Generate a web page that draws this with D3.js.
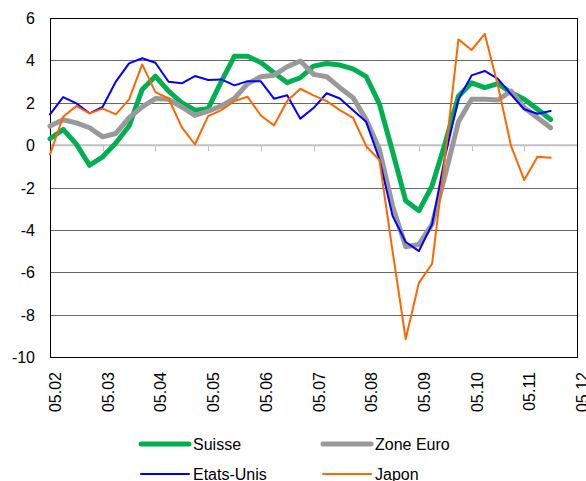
<!DOCTYPE html>
<html>
<head>
<meta charset="utf-8">
<script src="https://cdn.jsdelivr.net/npm/d3@7/dist/d3.min.js"></script>
<style>
  body { margin: 0; background: #fff; }
  svg { display: block; font-family: "Liberation Sans", Arial, sans-serif; }
</style>
</head>
<body>
<svg id="chart" width="586" height="481"></svg>
<script>
// tick labels on the x axis (month.year), one per year
let tickYears = [2002, 2003, 2004, 2005, 2006, 2007, 2008, 2009, 2010, 2011, 2012];
let tickLabels = ["05.02", "05.03", "05.04", "05.05", "05.06", "05.07", "05.08", "05.09", "05.10", "05.11", "05.12"];
let yTicks = [-10, -8, -6, -4, -2, 0, 2, 4, 6];

// quarterly values
let suisse = [0.3, 0.74, 0.05, -0.95, -0.55, 0.1, 0.9, 2.63, 3.25, 2.55,
  2.0, 1.65, 1.72, 3.0, 4.2, 4.2, 3.9, 3.42, 2.95, 3.18,
  3.73, 3.85, 3.78, 3.6, 3.23, 1.95, -0.3, -2.63, -3.1, -1.92,
  0.1, 2.31, 2.94, 2.71, 2.9, 2.47, 2.16, 1.69, 1.21];
let zoneEuro = [0.9, 1.2, 1.05, 0.82, 0.39, 0.55, 1.29, 1.81, 2.2, 2.16,
  1.8, 1.4, 1.6, 1.85, 2.2, 2.9, 3.23, 3.3, 3.7, 3.97,
  3.34, 3.23, 2.71, 2.24, 1.21, -0.2, -2.87, -4.8, -4.69, -3.74,
  -1.4, 1.1, 2.16, 2.16, 2.13, 2.55, 1.76, 1.29, 0.82];
let etatsUnis = [1.45, 2.27, 1.97, 1.5, 1.81, 3.0, 3.86, 4.1, 3.89, 2.99,
  2.92, 3.26, 3.07, 3.1, 2.82, 3.02, 3.01, 2.19, 2.35, 1.25,
  1.75, 2.45, 2.2, 1.65, 1.1, -0.66, -3.34, -4.57, -5.0, -3.74,
  -0.5, 2.16, 3.29, 3.5, 3.13, 2.39, 1.69, 1.48, 1.61];
let japon = [-0.44, 1.34, 1.84, 1.5, 1.72, 1.45, 2.16, 3.81, 2.5, 2.2,
  0.85, 0.03, 1.37, 1.65, 2.08, 2.28, 1.4, 0.93, 2.08, 2.66,
  2.35, 2.08, 1.65, 1.29, -0.05, -0.7, -5.0, -9.15, -6.5, -5.6,
  -0.5, 4.99, 4.49, 5.25, 2.8, -0.05, -1.65, -0.55, -0.6];

// one x position per quarter, starting at the first tick
let quarters = d3.range(suisse.length).map(i => 2002 + i / 4);

let series = [
  {name: "Suisse", values: suisse, color: "#00b050", width: 5},
  {name: "Zone Euro", values: zoneEuro, color: "#999999", width: 5},
  {name: "Etats-Unis", values: etatsUnis, color: "#0000ff", width: 2},
  {name: "Japon", values: japon, color: "#ff6600", width: 2}
];

let svg = d3.select("#chart");

let margin = {top: 18, right: 9, bottom: 124, left: 50};
let width = 586, height = 481;

let x = d3.scaleLinear()
  .domain([2002, 2012])
  .range([margin.left, width - margin.right]);

let y = d3.scaleLinear()
  .domain([-10, 6])
  .range([height - margin.bottom, margin.top]);

let crisp = v => Math.round(v) + 0.5;

// horizontal grid lines (not the zero line)
svg.append("g").selectAll("line")
  .data(yTicks.filter(d => d != 0 && d != 6 && d != -10))
  .join("line")
    .attr("x1", margin.left)
    .attr("x2", width - margin.right)
    .attr("y1", d => crisp(y(d)))
    .attr("y2", d => crisp(y(d)))
    .attr("stroke", "#666")
    .attr("stroke-width", 1);

// zero line with year ticks under it
let zero = svg.append("g");
zero.append("line")
  .attr("x1", margin.left)
  .attr("x2", width - margin.right)
  .attr("y1", y(0))
  .attr("y2", y(0))
  .attr("stroke", "#c0c0c0")
  .attr("stroke-width", 2);
zero.selectAll("line.tick")
  .data(tickYears)
  .join("line")
    .attr("class", "tick")
    .attr("x1", d => crisp(x(d)))
    .attr("x2", d => crisp(x(d)))
    .attr("y1", y(0))
    .attr("y2", y(0) + 6)
    .attr("stroke", "#c0c0c0")
    .attr("stroke-width", 1);

// plot area border
svg.append("rect")
  .attr("x", crisp(margin.left))
  .attr("y", crisp(y(6)))
  .attr("width", Math.round(x(2012)) - Math.round(x(2002)))
  .attr("height", Math.round(y(-10)) - Math.round(y(6)))
  .attr("fill", "none")
  .attr("stroke", "#000")
  .attr("stroke-width", 1);

// y labels
svg.append("g").selectAll("text")
  .data(yTicks)
  .join("text")
    .attr("x", 35)
    .attr("y", d => y(d) + 6)
    .attr("text-anchor", "end")
    .attr("font-size", 16)
    .attr("fill", "#000")
    .text(d => d);

// x labels, rotated
svg.append("g").selectAll("text")
  .data(tickYears)
  .join("text")
    .attr("transform", d => "translate(" + (x(d) + 11) + "," + 372 + ") rotate(-90)")
    .attr("text-anchor", "end")
    .attr("font-size", 16)
    .attr("fill", "#000")
    .text((d, i) => tickLabels[i]);

// the lines
let line = d3.line()
  .x((d, i) => x(quarters[i]))
  .y(d => y(d));

svg.append("g").selectAll("path")
  .data(series)
  .join("path")
    .attr("d", d => line(d.values))
    .attr("fill", "none")
    .attr("stroke", d => d.color)
    .attr("stroke-width", d => d.width)
    .attr("stroke-linejoin", "round")
    .attr("stroke-linecap", "round");

// legend, two columns
let legendPos = [[140, 444], [322, 444], [140, 474], [322, 474]];
let legend = svg.append("g").selectAll("g")
  .data(series)
  .join("g")
    .attr("transform", (d, i) => "translate(" + legendPos[i][0] + "," + legendPos[i][1] + ")");
legend.append("line")
  .attr("x1", 1)
  .attr("x2", 49)
  .attr("stroke", d => d.color)
  .attr("stroke-width", d => d.width)
  .attr("stroke-linecap", "round");
legend.append("text")
  .attr("x", 53)
  .attr("y", 6)
  .attr("font-size", 16)
  .attr("fill", "#000")
  .text(d => d.name);
</script>
</body>
</html>
